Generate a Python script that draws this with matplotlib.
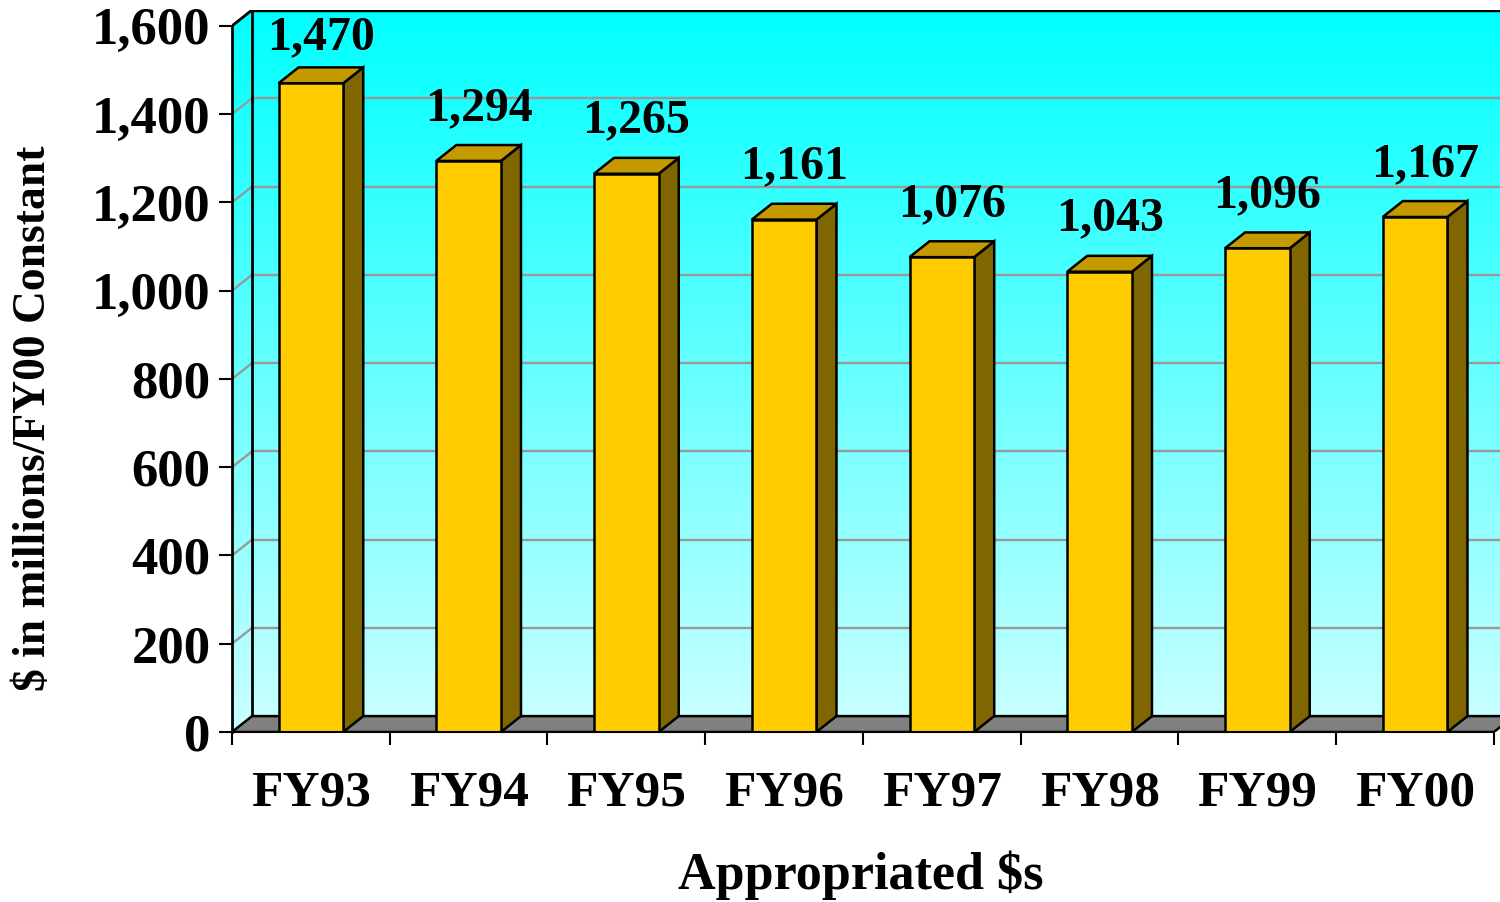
import numpy as np
import matplotlib.pyplot as plt
from matplotlib.patches import Polygon, Rectangle

plt.rcParams['font.family'] = ['Liberation Serif', 'DejaVu Serif']
plt.rcParams['font.weight'] = 'bold'

# data
years = ['FY93', 'FY94', 'FY95', 'FY96', 'FY97', 'FY98', 'FY99', 'FY00']
funding = [1470, 1294, 1265, 1161, 1076, 1043, 1096, 1167]
y_ticks = [0, 200, 400, 600, 800, 1000, 1200, 1400, 1600]

# 3d look
DX = 0.127      # depth offset in category units
DY = 36         # depth offset in value units
BAR_W = 0.41
n = len(years)
ymax = 1600

fig = plt.figure(figsize=(15, 9.02), dpi=100)
W, H = 1500, 902
# axes covers front plane plus depth area
ax = fig.add_axes([232 / W, 1 - 732 / H, 1282 / W, 722 / H])
ax.set_xlim(0, n + DX)
ax.set_ylim(0, ymax + DY)

# wall gradient (back wall + left wall)
grad = np.linspace(0, 1, 256)[:, None]
top = np.array([0.0, 1.0, 1.0])
bot = np.array([0.80, 1.0, 1.0])
img = (top[None, None, :] * grad[..., None] + bot[None, None, :] * (1 - grad[..., None]))
im = ax.imshow(img, extent=[0, n + DX, 0, ymax + DY], origin='lower',
               aspect='auto', zorder=0)
wall = Polygon([(0, 0), (DX, DY), (n + DX, DY), (n + DX, ymax + DY),
                (DX, ymax + DY), (0, ymax)], closed=True, transform=ax.transData)
im.set_clip_path(wall)

# gridlines on back and left wall
for v in y_ticks[1:]:
    ax.plot([DX, n + DX], [v + DY, v + DY], color='#999999', lw=1.7, zorder=1)
    ax.plot([0, DX], [v, v + DY], color='#999999', lw=1.7, zorder=1)

# wall outlines
ax.plot([DX, DX], [DY, ymax + DY], color='black', lw=2, zorder=2)
ax.plot([0, DX], [ymax, ymax + DY], color='black', lw=2, zorder=2)
ax.plot([DX, n + DX], [ymax + DY, ymax + DY], color='black', lw=2.5, zorder=2)

# floor
floor = Polygon([(0, 0), (n, 0), (n + DX, DY), (DX, DY)], closed=True,
                facecolor='#808080', edgecolor='black', lw=1.8, zorder=2)
ax.add_patch(floor)

# bars
for i, v in enumerate(funding):
    x0 = i + 0.5 - BAR_W / 2
    x1 = x0 + BAR_W
    side = Polygon([(x1, 0), (x1 + DX, DY), (x1 + DX, v + DY), (x1, v)],
                   closed=True, facecolor='#806600', edgecolor='black',
                   lw=1.8, zorder=3)
    topf = Polygon([(x0, v), (x1, v), (x1 + DX, v + DY), (x0 + DX, v + DY)],
                   closed=True, facecolor='#C49A00', edgecolor='black',
                   lw=1.8, zorder=3)
    front = Rectangle((x0, 0), BAR_W, v, facecolor='#FFCC00',
                      edgecolor='black', lw=1.8, zorder=4)
    ax.add_patch(side)
    ax.add_patch(topf)
    ax.add_patch(front)
    ax.text(i + 0.5 + DX / 2, min(v + DY + 57, 1548), f'{v:,}',
            ha='center', va='baseline', fontsize=34.5, fontweight='bold',
            zorder=5)

# axes
for s in ['top', 'right']:
    ax.spines[s].set_visible(False)
ax.spines['left'].set_bounds(0, ymax)
ax.spines['bottom'].set_bounds(0, n)
ax.spines['left'].set_linewidth(2)
ax.spines['bottom'].set_linewidth(1.5)
ax.spines['left'].set_zorder(6)
ax.spines['bottom'].set_zorder(6)

ax.set_yticks(y_ticks)
ax.set_yticklabels([f'{v:,}' for v in y_ticks])
ax.tick_params(axis='y', length=9.5, width=1.5, pad=6, labelsize=38)

ax.set_xticks(np.arange(n + 1))
ax.set_xticklabels([])
ax.set_xticks(np.arange(n) + 0.5, minor=True)
ax.set_xticklabels(years, minor=True)
ax.tick_params(axis='x', which='major', length=9.5, width=1.5)
ax.tick_params(axis='x', which='minor', length=0, pad=28, labelsize=37)

fig.text(861 / W, 1 - 889 / H, 'Appropriated $s', ha='center',
         va='baseline', fontsize=37.5, fontweight='bold')
fig.text(34 / W, 1 - 418 / H, '$ in millions/FY00 Constant', rotation=90,
         ha='center', va='center', fontsize=32.8, fontweight='bold')

plt.savefig('out.png', dpi=100)
